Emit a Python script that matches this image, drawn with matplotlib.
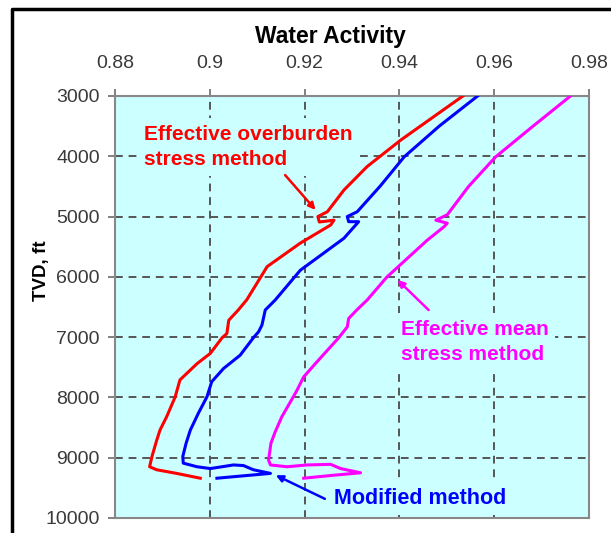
import matplotlib
matplotlib.use("Agg")
import matplotlib.pyplot as plt
from matplotlib.lines import Line2D

plt.rcParams['font.family'] = ['Liberation Sans', 'DejaVu Sans']

# --- data ---
depth_red = [3000, 3730, 4170, 4560, 4920, 5000, 5090, 5060, 5140, 5440, 5830,
             6380, 6550, 6720, 6940, 7010, 7270, 7440, 7710, 7990, 8320, 8540,
             8710, 8980, 9150, 9200, 9260, 9340]
aw_red = [0.9534, 0.9403, 0.9332, 0.9283, 0.9248, 0.9228, 0.9231, 0.9262, 0.9255,
          0.9191, 0.9121, 0.9078, 0.9060, 0.9040, 0.9036, 0.9026, 0.9001, 0.8973,
          0.8937, 0.8927, 0.8909, 0.8895, 0.8888, 0.8878, 0.8873, 0.8888, 0.8930,
          0.8980]

depth_blue = [3000, 3500, 4010, 4490, 4920, 5000, 5085, 5085, 5360, 5890, 6384, 6550,
              6800, 6910, 7010, 7300, 7520, 7740, 7990, 8260, 8540, 8760, 8980,
              9090, 9150, 9180, 9120, 9130, 9200, 9260, 9340]
aw_blue = [0.9565, 0.9484, 0.9410, 0.9360, 0.9311, 0.9290, 0.9293, 0.9314, 0.9283, 0.9191,
           0.9138, 0.9117, 0.9110, 0.9103, 0.9092, 0.9064, 0.9029, 0.9004, 0.8994,
           0.8976, 0.8959, 0.8950, 0.8943, 0.8944, 0.8973, 0.9001, 0.9050, 0.9071,
           0.9092, 0.9128, 0.9015]

depth_mag = [3000, 3500, 4010, 4500, 4970, 5060, 5110, 5170, 5390, 6000, 6384, 6550, 6690,
             6830, 7010, 7410, 7660, 7880, 8020, 8320, 8570, 8760, 9040, 9120,
             9150, 9120, 9110, 9180, 9250, 9290, 9340]
aw_mag = [0.9761, 0.9682, 0.9603, 0.9546, 0.9501, 0.9477, 0.9501, 0.9494, 0.9459, 0.9374,
          0.9332, 0.9310, 0.9293, 0.9290, 0.9272, 0.9226, 0.9198, 0.9184, 0.9174, 0.9152,
          0.9138, 0.9129, 0.9124, 0.9128, 0.9163, 0.9205, 0.9255, 0.9276, 0.9318,
          0.9262, 0.9198]

x_ticks = [0.88, 0.90, 0.92, 0.94, 0.96, 0.98]
x_labels = ["0.88", "0.9", "0.92", "0.94", "0.96", "0.98"]
y_ticks = [3000, 4000, 5000, 6000, 7000, 8000, 9000, 10000]

# --- figure ---
fig = plt.figure(figsize=(6.11, 5.33), dpi=100)
ax = fig.add_axes([115 / 611, 1 - 518 / 533, 474 / 611, 422 / 533])
ax.set_facecolor('#ccffff')

ax.plot(aw_red, depth_red, color='#ff0000', lw=2.2, zorder=4)
ax.plot(aw_blue, depth_blue, color='#0000ff', lw=2.2, zorder=4)
ax.plot(aw_mag, depth_mag, color='#ff00ff', lw=2.2, zorder=4)

ax.set_xlim(0.88, 0.98)
ax.set_ylim(10000, 3000)
ax.xaxis.tick_top()
ax.xaxis.set_label_position('top')
ax.set_xticks(x_ticks)
ax.set_xticklabels(x_labels)
ax.set_yticks(y_ticks)
ax.tick_params(axis='x', direction='out', length=5, width=1.3, color='#777777',
               labelsize=14, labelcolor='#3a3a3a', pad=12)
ax.tick_params(axis='y', direction='out', length=5, width=1.3, color='#777777',
               labelsize=14, labelcolor='#3a3a3a', pad=6)

ax.set_axisbelow(True)
ax.grid(True, color='#555555', lw=1.4, linestyle=(0, (4, 3)))
for s in ax.spines.values():
    s.set_color('#888888')
    s.set_linewidth(1.5)

ax.set_xlabel('Water Activity', fontsize=16.5, fontweight='bold')
ax.xaxis.set_label_coords(0.454, 1.126)
ax.set_ylabel('TVD, ft', fontsize=13.5, fontweight='bold')
ax.yaxis.set_label_coords(-0.138, 0.585)

# annotations
box = dict(facecolor='#ccffff', edgecolor='none', pad=5)
ax.text(0.8861, 3846, 'Effective overburden\nstress method', color='#ff0000',
        fontsize=15, fontweight='bold', ha='left', va='center', linespacing=1.4,
        bbox=box, zorder=3)
ax.annotate('', xy=(0.9227, 4924), xytext=(0.9155, 4277),
            arrowprops=dict(arrowstyle='-|>', color='#ff0000', lw=1.8,
                            mutation_scale=10), zorder=5)

ax.text(0.9403, 7081, 'Effective mean\nstress method', color='#ff00ff',
        fontsize=15, fontweight='bold', ha='left', va='center', linespacing=1.4,
        bbox=box, zorder=3)
ax.annotate('', xy=(0.9392, 6019), xytext=(0.9466, 6583),
            arrowprops=dict(arrowstyle='-|>', color='#ff00ff', lw=1.8,
                            mutation_scale=10), zorder=5)

ax.text(0.9261, 9669, 'Modified method', color='#0000ff',
        fontsize=15.5, fontweight='bold', ha='left', va='center',
        bbox=box, zorder=3)
ax.annotate('', xy=(0.9134, 9271), xytext=(0.9248, 9702),
            arrowprops=dict(arrowstyle='-|>', color='#0000ff', lw=1.8,
                            mutation_scale=10), zorder=5)

# outer frame (top and left edges visible)
fig.add_artist(Line2D([12 / 611, 12 / 611, 1.0], [0.0, 1 - 9 / 533, 1 - 9 / 533],
                      transform=fig.transFigure, color='black', lw=2.5))

fig.savefig('out.png', dpi=100)
